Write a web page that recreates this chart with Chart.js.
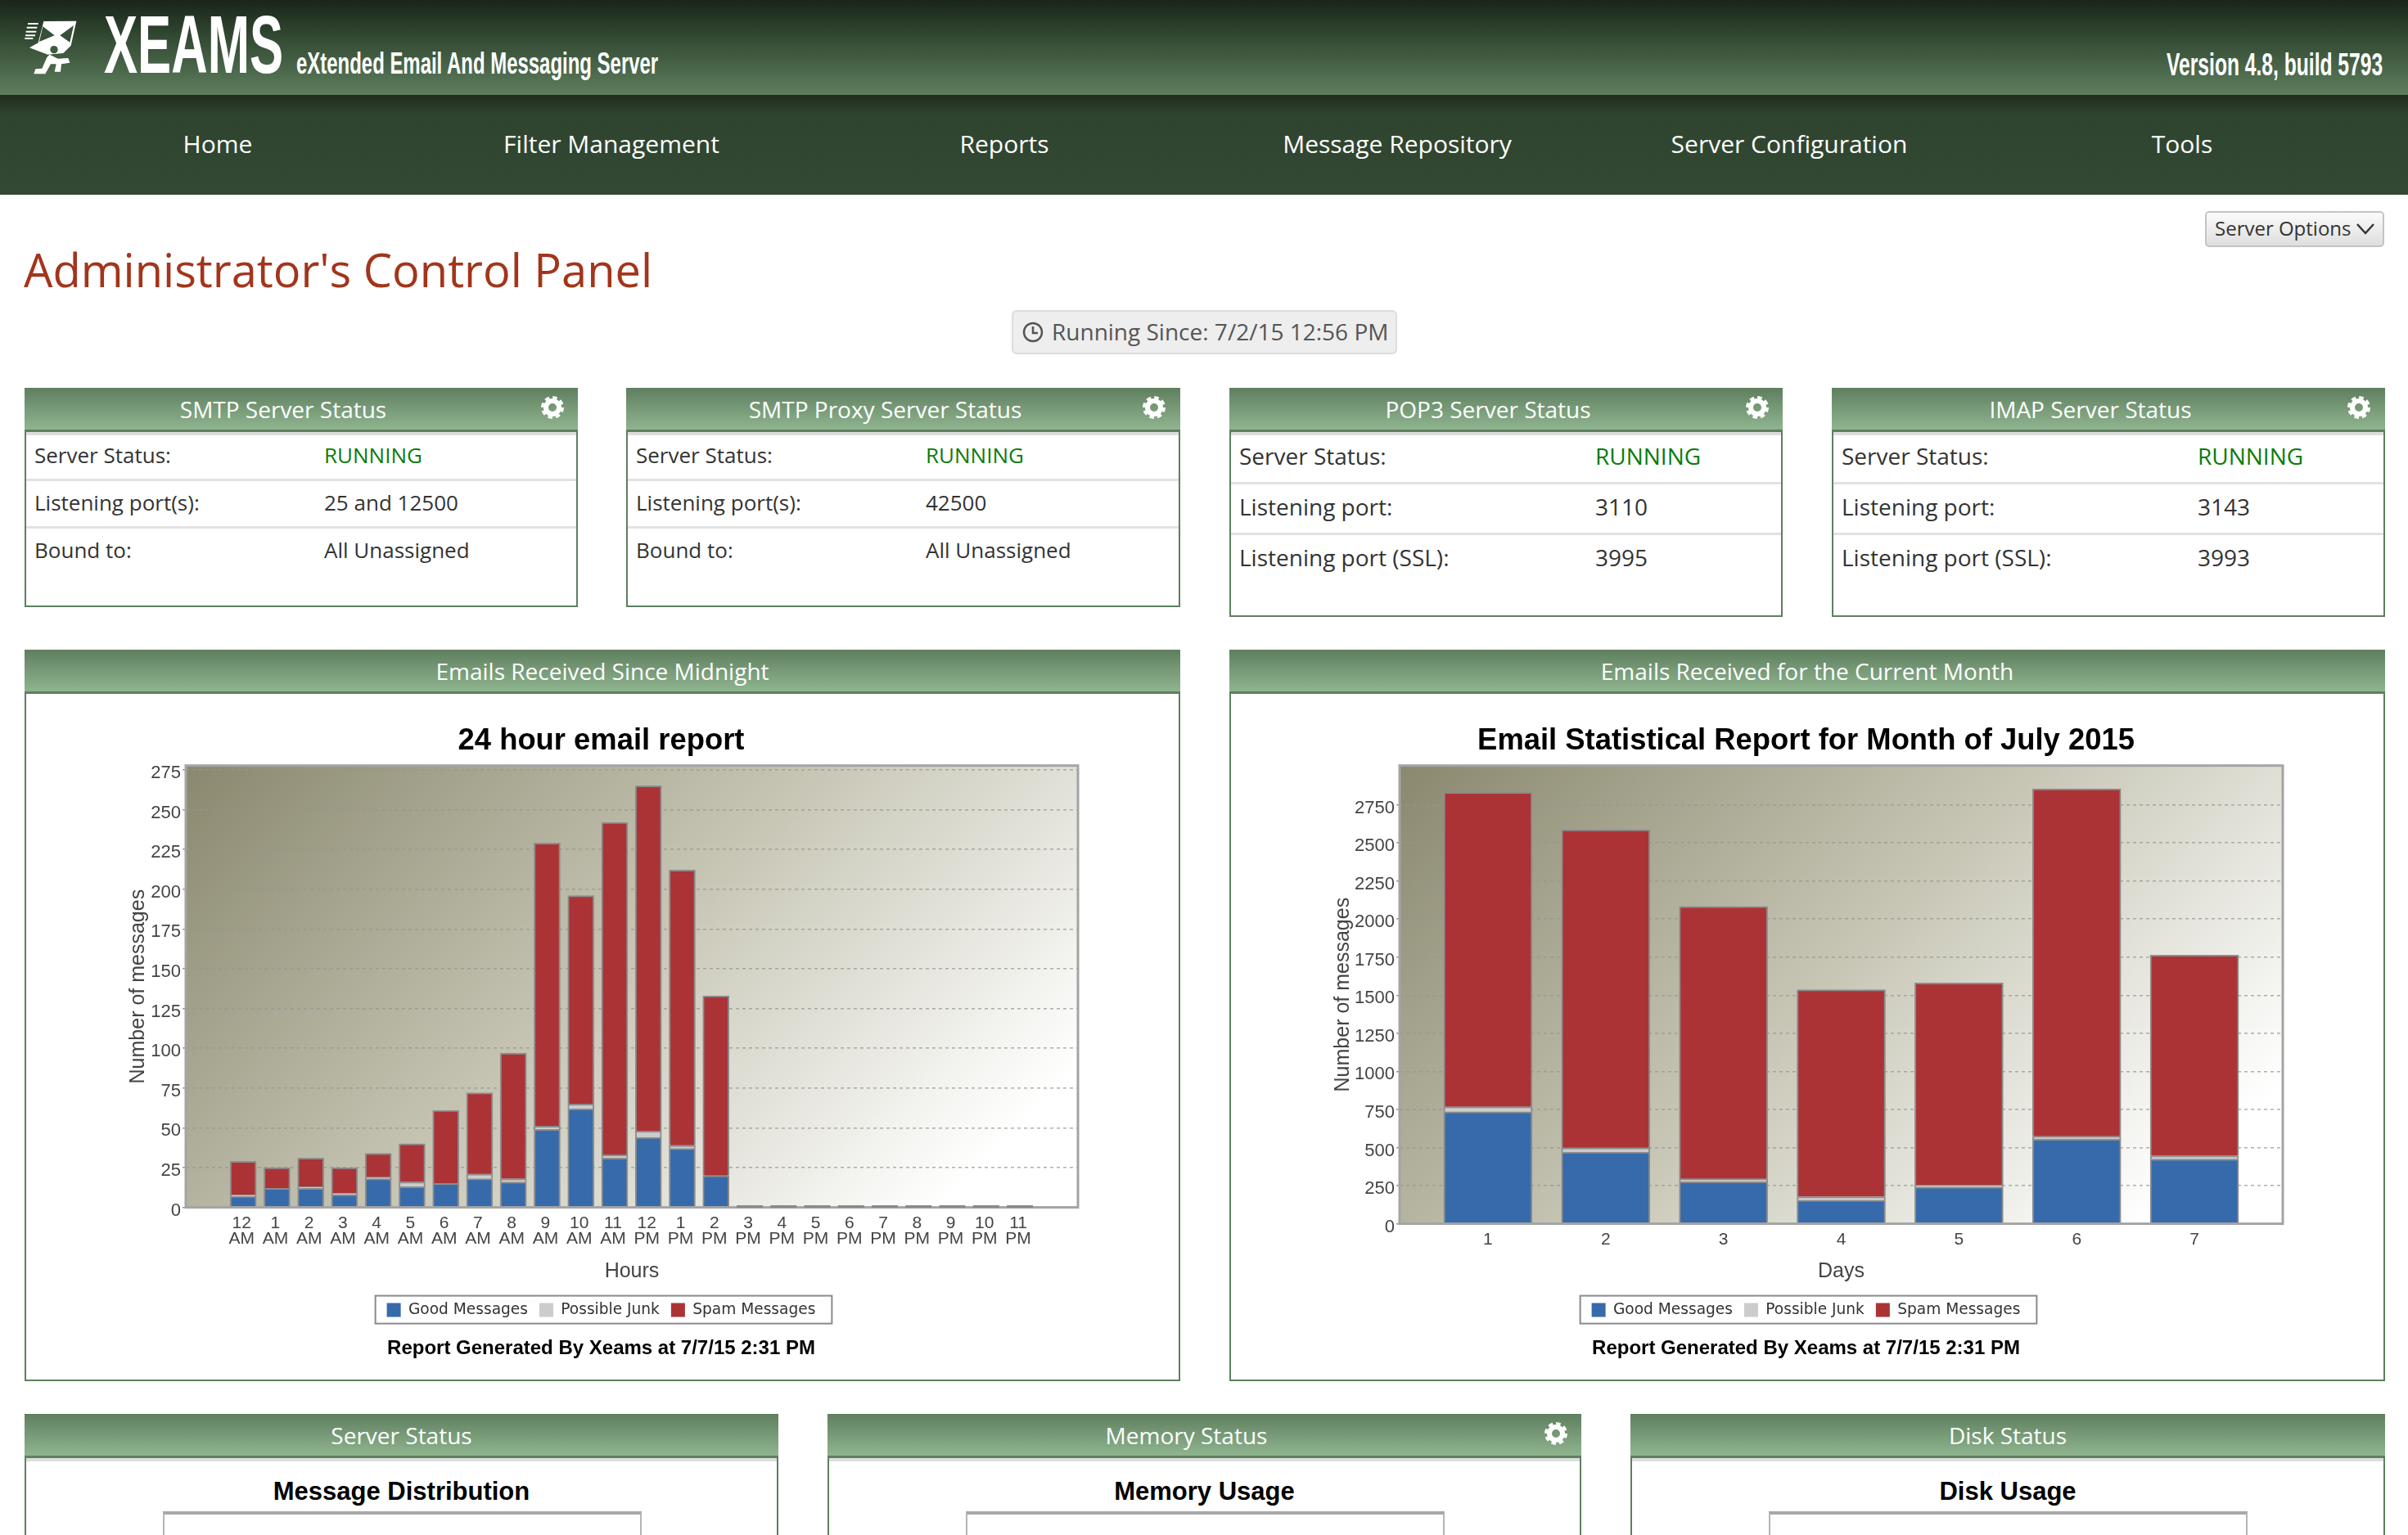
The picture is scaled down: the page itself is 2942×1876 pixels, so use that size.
<!DOCTYPE html>
<html>
<head>
<meta charset="utf-8">
<title>Xeams</title>
<script src="https://cdn.jsdelivr.net/npm/chart.js@4"></script>
<style>
html, body { margin: 0; padding: 0; width: 2942px; height: 1876px; overflow: hidden; background: #fff; font-family: "Open Sans", sans-serif; color: #333; }
.abs { position: absolute; white-space: nowrap; }
#top { position: absolute; left: 0; top: 0; width: 2942px; height: 116px; background: linear-gradient(#192519, #334a33 40%, #5e7e5e); }
#nav { position: absolute; left: 0; top: 116px; width: 2942px; height: 122px; background: linear-gradient(#1f2c1f, #2f442f 20%, #334933); }
.navitem { position: absolute; top: 154px; width: 480px; text-align: center; color: #fff; font-size: 30px; line-height: 44px; }
.head { font-family: "Liberation Sans"; color: #fff; font-weight: bold; transform-origin: left top; }
.panel { position: absolute; box-sizing: border-box; border: 2px solid #5f7f5f; background: #fff; }
.phead { position: absolute; left: -2px; right: -2px; top: -2px; height: 51px; background: linear-gradient(#5f7f5f, #8fb58f); border-bottom: 3px solid #5f7f5f; box-sizing: content-box; color: #fff; font-size: 28px; line-height: 52px; text-align: center; }
.phead.gearpad { padding-right: 44px; right: -2px; }
.grey { position: absolute; left: 0; right: 0; top: 52px; height: 4px; background: #ddd; }
.row { position: absolute; left: 0; right: 0; height: 3px; background: #e2e2e2; }
.cell { position: absolute; white-space: nowrap; font-size: 26px; line-height: 40px; }
.big { font-size: 28px; }
.gear { position: absolute; }
.ptitle { position: absolute; left: 0; right: 0; top: 75px; text-align: center; font: bold 31px "Liberation Sans"; color: #000; }
.pbox { position: absolute; box-sizing: border-box; top: 117px; height: 200px; border: 2px solid #b5b5b5; border-top: 4px solid #a8a8a8; }
canvas { position: absolute; }
</style>
</head>
<body>
<div id="top"></div>
<div id="nav"></div>

<!-- logo: man carrying an envelope -->
<svg class="abs" style="left:20px;top:15px" width="90" height="85" viewBox="0 0 270 255">
  <path fill="#fff" d="M100 33 L220 32 L200 122 L172 150 L115 155 L48 130 L80 112 Z"/>
  <path fill="#38503a" d="M97 52 L140 85 L84 108 Z M210 48 L196 110 L160 85 Z"/>
  <circle cx="138" cy="137" r="14" fill="#3f5a40"/>
  <path fill="#fff" d="M122 155 L152 170 L190 168 L196 185 L165 190 L162 218 L140 218 L146 190 L126 190 L106 226 L64 226 L70 208 L94 206 L112 165 Z"/>
  <path stroke="#fff" stroke-width="6" d="M42 42h38M38 56h38M35 71h38M33 85h36M31 96h30"/>
</svg>
<div class="abs head" style="left:127px;top:-2px;font-size:100px;line-height:112px;transform:scaleX(.616)">XEAMS</div>
<div class="abs head" style="left:362px;top:56px;font-size:36px;line-height:44px;transform:scaleX(.665)">eXtended Email And Messaging Server</div>
<div class="abs head" style="left:2647px;top:57px;font-size:38px;line-height:44px;transform:scaleX(.648)">Version 4.8, build 5793</div>

<div class="navitem" style="left:26px">Home</div>
<div class="navitem" style="left:507px">Filter Management</div>
<div class="navitem" style="left:987px">Reports</div>
<div class="navitem" style="left:1467px">Message Repository</div>
<div class="navitem" style="left:1946px">Server Configuration</div>
<div class="navitem" style="left:2426px">Tools</div>

<div class="abs" style="left:29px;top:290px;font-size:56px;line-height:78px;color:#a2351b">Administrator's Control Panel</div>

<div class="abs" style="left:2694px;top:258px;width:219px;height:44px;box-sizing:border-box;border:2px solid #c4c4c4;border-radius:5px;background:linear-gradient(#fbfbfb,#dedede);font-size:24px;line-height:38px;padding-left:10px">Server Options
  <svg style="position:absolute;left:182px;top:11px" width="24" height="18"><path d="M2 3 L12 14 L22 3" fill="none" stroke="#333" stroke-width="2.5"/></svg>
</div>

<div class="abs" style="left:1236px;top:379px;width:471px;height:54px;box-sizing:border-box;border:2px solid #ddd;border-radius:6px;background:#eee;font-size:28px;line-height:48px;color:#555;padding-left:47px">
  <svg style="position:absolute;left:11px;top:12px" width="26" height="26"><circle cx="13" cy="13" r="11" fill="none" stroke="#555" stroke-width="2.5"/><path d="M13 6v8h6" fill="none" stroke="#555" stroke-width="2.5"/></svg>Running Since: 7/2/15 12:56 PM
</div>

<!-- SMTP -->
<div class="panel" style="left:30px;top:474px;width:676px;height:268px">
  <div class="phead gearpad">SMTP Server Status</div><div class="grey"></div>
  <div class="row" style="top:109px"></div><div class="row" style="top:167px"></div>
  <div class="cell" style="left:10px;top:60px">Server Status:</div><div class="cell" style="left:364px;top:60px;color:#0a7d0a">RUNNING</div>
  <div class="cell" style="left:10px;top:118px">Listening port(s):</div><div class="cell" style="left:364px;top:118px">25 and 12500</div>
  <div class="cell" style="left:10px;top:176px">Bound to:</div><div class="cell" style="left:364px;top:176px">All Unassigned</div>
</div>
<!-- SMTP proxy -->
<div class="panel" style="left:765px;top:474px;width:677px;height:268px">
  <div class="phead gearpad">SMTP Proxy Server Status</div><div class="grey"></div>
  <div class="row" style="top:109px"></div><div class="row" style="top:167px"></div>
  <div class="cell" style="left:10px;top:60px">Server Status:</div><div class="cell" style="left:364px;top:60px;color:#0a7d0a">RUNNING</div>
  <div class="cell" style="left:10px;top:118px">Listening port(s):</div><div class="cell" style="left:364px;top:118px">42500</div>
  <div class="cell" style="left:10px;top:176px">Bound to:</div><div class="cell" style="left:364px;top:176px">All Unassigned</div>
</div>
<!-- POP3 -->
<div class="panel" style="left:1502px;top:474px;width:676px;height:280px">
  <div class="phead gearpad">POP3 Server Status</div><div class="grey"></div>
  <div class="row" style="top:113px"></div><div class="row" style="top:175px"></div>
  <div class="cell big" style="left:10px;top:61px">Server Status:</div><div class="cell big" style="left:445px;top:61px;color:#0a7d0a">RUNNING</div>
  <div class="cell big" style="left:10px;top:123px">Listening port:</div><div class="cell big" style="left:445px;top:123px">3110</div>
  <div class="cell big" style="left:10px;top:185px">Listening port (SSL):</div><div class="cell big" style="left:445px;top:185px">3995</div>
</div>
<!-- IMAP -->
<div class="panel" style="left:2238px;top:474px;width:676px;height:280px">
  <div class="phead gearpad">IMAP Server Status</div><div class="grey"></div>
  <div class="row" style="top:113px"></div><div class="row" style="top:175px"></div>
  <div class="cell big" style="left:10px;top:61px">Server Status:</div><div class="cell big" style="left:445px;top:61px;color:#0a7d0a">RUNNING</div>
  <div class="cell big" style="left:10px;top:123px">Listening port:</div><div class="cell big" style="left:445px;top:123px">3143</div>
  <div class="cell big" style="left:10px;top:185px">Listening port (SSL):</div><div class="cell big" style="left:445px;top:185px">3993</div>
</div>

<!-- chart panels -->
<div class="panel" style="left:30px;top:794px;width:1412px;height:894px"><div class="phead">Emails Received Since Midnight</div></div>
<div class="panel" style="left:1502px;top:794px;width:1412px;height:894px"><div class="phead">Emails Received for the Current Month</div></div>
<canvas id="hour-chart" style="left:32px;top:846px" width="1408" height="839"></canvas>
<canvas id="day-chart" style="left:1504px;top:846px" width="1408" height="839"></canvas>

<!-- bottom row, cut off by the window -->
<div class="panel" style="left:30px;top:1728px;width:921px;height:220px">
  <div class="phead">Server Status</div><div class="grey"></div>
  <div class="ptitle">Message Distribution</div><div class="pbox" style="left:167px;width:585px"></div>
</div>
<div class="panel" style="left:1011px;top:1728px;width:921px;height:220px">
  <div class="phead gearpad">Memory Status</div><div class="grey"></div>
  <div class="ptitle">Memory Usage</div><div class="pbox" style="left:167px;width:585px"></div>
</div>
<div class="panel" style="left:1992px;top:1728px;width:922px;height:220px">
  <div class="phead">Disk Status</div><div class="grey"></div>
  <div class="ptitle">Disk Usage</div><div class="pbox" style="left:167px;width:585px"></div>
</div>

<script>
// hours since midnight
const hourLabels = ['12','1','2','3','4','5','6','7','8','9','10','11','12','1','2','3','4','5','6','7','8','9','10','11'];
const ampmLabels = ['AM','AM','AM','AM','AM','AM','AM','AM','AM','AM','AM','AM','PM','PM','PM','PM','PM','PM','PM','PM','PM','PM','PM','PM'];
const hourGood = [7,12,12,8,18,13,15,18,16,49,62,31,44,37,20,0,0,0,0,0,0,0,0,0];
const hourJunk = [1,0,1,1,1,3,0,3,2,2,3,2,4,2,0,0,0,0,0,0,0,0,0,0];
const hourSpam = [21,13,18,16,15,24,46,51,79,178,131,209,217,173,113,0,0,0,0,0,0,0,0,0];
const hourTicks = [0,25,50,75,100,125,150,175,200,225,250,275];

// days of the month
const dayLabels = ['1','2','3','4','5','6','7'];
const dayGood = [735,470,275,155,240,555,425];
const dayJunk = [33,28,20,23,14,19,21];
const daySpam = [2064,2088,1788,1358,1326,2280,1317];
const dayTicks = [0,250,500,750,1000,1250,1500,1750,2000,2250,2500,2750];

const seriesNames = ['Good Messages', 'Possible Junk', 'Spam Messages'];
const seriesColors = ['#376aaa', '#cccccc', '#ab3336'];

const reportText = 'Report Generated By Xeams at 7/7/15 2:31 PM';

// plot background, frame, legend frame and the dashes of empty bars
const framePlugin = {
    id: 'frame',
    beforeDraw(chart) {
        const a = chart.chartArea;
        const ctx = chart.ctx;
        // the shading runs at 45 degrees, not corner to corner
        const reach = (a.right - a.left + a.bottom - a.top) / 1.92;
        const g = ctx.createLinearGradient(a.left, a.top, a.left + reach, a.top + reach);
        g.addColorStop(0, '#8a886e');
        g.addColorStop(0.45, '#c6c5b4');
        g.addColorStop(0.86, '#ffffff');
        ctx.fillStyle = g;
        ctx.fillRect(a.left, a.top, a.right - a.left, a.bottom - a.top);
    },
    afterDraw(chart) {
        const a = chart.chartArea;
        const ctx = chart.ctx;
        ctx.save();
        ctx.strokeStyle = '#a4a4a4';
        ctx.lineWidth = 3;
        ctx.strokeRect(a.left, a.top, a.right - a.left, a.bottom - a.top);

        // empty hours still get a short grey stroke on the base line
        ctx.strokeStyle = '#8a8a8a';
        chart.getDatasetMeta(0).data.forEach((bar, i) => {
            const total = chart.data.datasets.reduce((s, d) => s + d.data[i].y, 0);
            if (total === 0) {
                ctx.beginPath();
                ctx.moveTo(bar.x - bar.width / 2, a.bottom - 1);
                ctx.lineTo(bar.x + bar.width / 2, a.bottom - 1);
                ctx.stroke();
            }
        });

        const boxes = chart.legend.legendHitBoxes;
        const first = boxes[0];
        const last = boxes[boxes.length - 1];
        ctx.lineWidth = 2;
        ctx.strokeRect(first.left - 14, first.top - 8, last.left + last.width - first.left + 34, 34);
        ctx.restore();
    }
};

function createStackedChart(canvasId, cfg) {
    const ctx = document.getElementById(canvasId).getContext('2d');
    const toPoints = values => values.map((y, x) => ({ x: x, y: y }));
    new Chart(ctx, {
        type: 'bar',
        plugins: [framePlugin],
        data: {
            datasets: [cfg.good, cfg.junk, cfg.spam].map((values, i) => ({
                label: seriesNames[i],
                data: toPoints(values),
                backgroundColor: seriesColors[i],
                borderColor: '#8c8c8c',
                borderWidth: 2,
                barThickness: cfg.barWidth
            }))
        },
        options: {
            responsive: false,
            animation: false,
            devicePixelRatio: 1,
            layout: { padding: { left: cfg.padLeft, right: 123, top: 0, bottom: 0 } },
            scales: {
                x: {
                    type: 'linear',
                    stacked: true,
                    offset: false,
                    min: cfg.xMin,
                    max: cfg.xMax,
                    afterBuildTicks: s => { s.ticks = cfg.labels.map((_, i) => ({ value: i })); },
                    afterFit: s => { s.height = cfg.xHeight; },
                    grid: { display: false, offset: false },
                    border: { display: false },
                    ticks: {
                        autoSkip: false,
                        maxRotation: 0,
                        padding: 2,
                        labelOffset: cfg.tickShift,
                        color: '#444',
                        font: { family: 'Liberation Sans', size: 21, lineHeight: 0.9 },
                        callback: cfg.tickText
                    },
                    title: {
                        display: true,
                        text: cfg.xTitle,
                        color: '#444',
                        font: { family: 'Liberation Sans', size: 25 },
                        padding: { top: 0, bottom: 8 }
                    }
                },
                y: {
                    stacked: true,
                    min: 0,
                    max: cfg.yMax,
                    afterBuildTicks: s => { s.ticks = cfg.yTicks.map(v => ({ value: v })); },
                    afterFit: s => { s.width = cfg.yWidth; },
                    grid: { color: 'rgba(150,150,145,0.75)', tickColor: '#999', tickLength: 4, lineWidth: 1.5 },
                    border: { display: false, dash: [4, 4] },
                    ticks: {
                        padding: 2,
                        labelOffset: 4,
                        color: '#444',
                        font: { family: 'Liberation Sans', size: 22 },
                        callback: v => String(v)
                    },
                    title: {
                        display: true,
                        text: 'Number of messages',
                        color: '#444',
                        font: { family: 'Liberation Sans', size: 25 },
                        padding: { top: 2, bottom: 0 }
                    }
                }
            },
            plugins: {
                tooltip: { enabled: false },
                title: {
                    display: true,
                    text: cfg.title,
                    color: '#000',
                    font: { family: 'Liberation Sans', size: 36.4, weight: 'bold', lineHeight: 1.2 },
                    padding: { top: 38, bottom: 8 }
                },
                subtitle: {
                    display: true,
                    position: 'bottom',
                    text: reportText,
                    color: '#000',
                    font: { family: 'Liberation Sans', size: 24, weight: 'bold', lineHeight: 1.2 },
                    padding: { top: 14, bottom: 22 }
                },
                legend: {
                    position: 'bottom',
                    labels: {
                        boxWidth: 17,
                        boxHeight: 17,
                        padding: 14,
                        color: '#333',
                        font: { family: 'DejaVu Sans', size: 18.6 },
                        // swatches have no outline in the original
                        generateLabels: c => Chart.defaults.plugins.legend.labels.generateLabels(c)
                            .map(item => Object.assign(item, { lineWidth: 0 }))
                    }
                }
            }
        }
    });
}

createStackedChart('hour-chart', {
    labels: hourLabels,
    good: hourGood, junk: hourJunk, spam: hourSpam,
    title: '24 hour email report',
    xTitle: 'Hours',
    tickText: v => [hourLabels[v], ampmLabels[v]],
    tickShift: -2,
    yTicks: hourTicks,
    yMax: 277.7,
    xMin: -1.7,
    xMax: 24.72,
    barWidth: 32,
    padLeft: 120,
    yWidth: 75,
    xHeight: 102
});

createStackedChart('day-chart', {
    labels: dayLabels,
    good: dayGood, junk: dayJunk, spam: daySpam,
    title: 'Email Statistical Report for Month of July 2015',
    xTitle: 'Days',
    tickText: v => dayLabels[v],
    tickShift: 0,
    yTicks: dayTicks,
    yMax: 3007,
    xMin: -0.75,
    xMax: 6.75,
    barWidth: 108,
    padLeft: 120,
    yWidth: 86,
    xHeight: 82
});

// gear icons on the panels that have options
const gearSpots = [[675, 498], [1410, 498], [2147, 498], [2882, 498], [1901, 1752]];
gearSpots.forEach(function(p) {
    const svg = document.createElementNS('http://www.w3.org/2000/svg', 'svg');
    svg.setAttribute('class', 'gear');
    svg.setAttribute('width', 30);
    svg.setAttribute('height', 30);
    svg.style.left = (p[0] - 15) + 'px';
    svg.style.top = (p[1] - 15) + 'px';
    svg.innerHTML = '<circle cx="15" cy="15" r="8" fill="none" stroke="#fff" stroke-width="6"/>' +
        '<circle cx="15" cy="15" r="12" fill="none" stroke="#fff" stroke-width="4" stroke-dasharray="5.4 4"/>';
    document.body.appendChild(svg);
});
</script>
</body>
</html>
